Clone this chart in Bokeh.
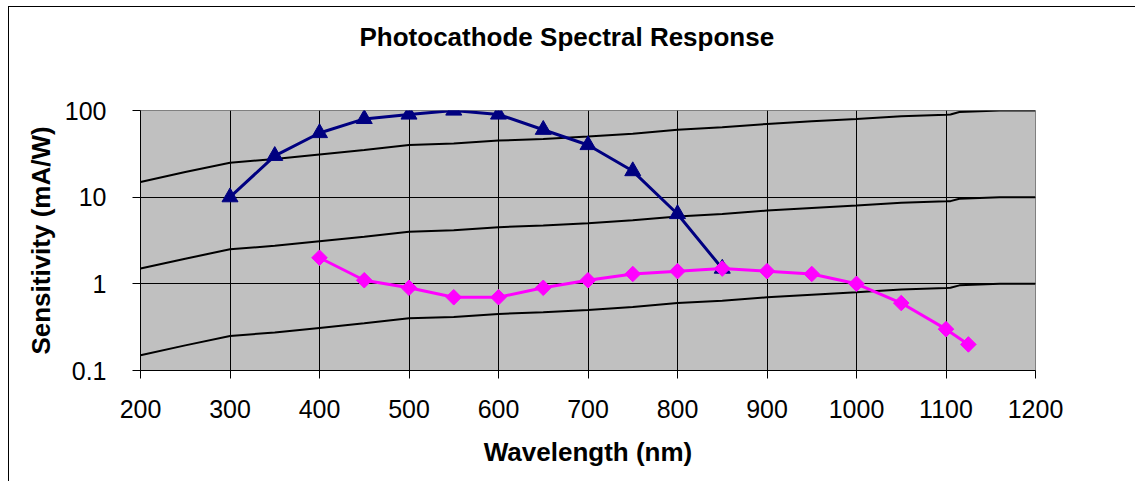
from bokeh.plotting import figure
from bokeh.models import FixedTicker, CustomJSTickFormatter, Range1d, Title
from bokeh.embed import file_html
from bokeh.resources import INLINE

# ---- data ----
iso_wl = [200, 250, 300, 350, 400, 450, 500, 550, 600, 650, 700, 750, 800,
          850, 900, 950, 1000, 1050, 1100, 1105, 1115, 1160, 1200]
iso_high = [15, 19.5, 25, 27.5, 31, 35, 40, 41.5, 45, 47, 50, 54, 60,
            64, 70, 75, 80, 86, 89.5, 90, 96, 100, 100]
iso_mid = [1.5, 1.95, 2.5, 2.75, 3.1, 3.5, 4.0, 4.15, 4.5, 4.7, 5.0, 5.4, 6.0,
           6.4, 7.0, 7.5, 8.0, 8.6, 8.95, 9.0, 9.6, 10, 10]
iso_low = [0.15, 0.195, 0.25, 0.275, 0.31, 0.35, 0.40, 0.415, 0.45, 0.47, 0.50, 0.54, 0.60,
           0.64, 0.70, 0.75, 0.80, 0.86, 0.895, 0.90, 0.96, 1.0, 1.0]

blue_wl = [300, 350, 400, 450, 500, 550, 600, 650, 700, 750, 800, 850]
blue_s = [10, 30, 55, 80, 90, 100, 90, 60, 40, 20, 6.4, 1.5]

pink_wl = [400, 450, 500, 550, 600, 650, 700, 750, 800, 850, 900, 950, 1000, 1050, 1100, 1125]
pink_s = [2.0, 1.1, 0.9, 0.7, 0.7, 0.9, 1.1, 1.3, 1.4, 1.5, 1.4, 1.3, 1.0, 0.6, 0.3, 0.2]

x_ticks = [200, 300, 400, 500, 600, 700, 800, 900, 1000, 1100, 1200]
y_ticks = [0.1, 1, 10, 100]

TITLE = "Photocathode Spectral Response"
FONT = "Liberation Sans"

p = figure(width=1127, height=475, y_axis_type="log",
           x_range=Range1d(200, 1200), y_range=Range1d(0.1, 100),
           output_backend="svg", toolbar_location=None,
           min_border_left=131, min_border_right=101,
           min_border_top=103, min_border_bottom=112)

p.styles = {"margin-top": "6px", "margin-left": "8px",
            "border-top": "1px solid black", "border-left": "1px solid black"}

p.background_fill_color = "#C0C0C0"
p.border_fill_color = "white"
p.outline_line_color = "#808080"
p.outline_line_width = 1

# chart title
p.title.text = TITLE
p.title.align = "left"
p.title.offset = 219
p.title.vertical_align = "top"
p.title.standoff = 20
p.title.text_font = FONT
p.title.text_font_size = "26px"
p.title.text_font_style = "bold"
p.title.text_color = "black"

# blank spacer between the chart title and the plot frame
p.add_layout(Title(text=" ", text_font_size="10px", standoff=34), "above")

p.xaxis.ticker = FixedTicker(ticks=x_ticks)
p.yaxis.ticker = FixedTicker(ticks=y_ticks)
p.yaxis.formatter = CustomJSTickFormatter(code="return tick >= 1 ? tick.toFixed(0) : tick.toString();")
p.xgrid.ticker = FixedTicker(ticks=x_ticks)
p.ygrid.ticker = FixedTicker(ticks=y_ticks)
p.grid.grid_line_color = "black"
p.grid.grid_line_width = 1

p.axis.minor_tick_line_color = None
p.axis.major_tick_in = 0
p.axis.major_tick_out = 8
p.axis.major_tick_line_color = "black"
p.axis.axis_line_color = "black"
p.axis.major_label_text_font = FONT
p.axis.major_label_text_font_size = "25px"
p.axis.major_label_text_color = "black"
p.xaxis.major_label_standoff = 21
p.yaxis.major_label_standoff = 26

p.xaxis.axis_label = "Wavelength (nm)"
p.yaxis.axis_label = "Sensitivity (mA/W)"
p.axis.axis_label_text_font = FONT
p.axis.axis_label_text_font_size = "26px"
p.axis.axis_label_text_font_style = "bold"
p.axis.axis_label_text_color = "black"
p.xaxis.axis_label_standoff = 16
p.yaxis.axis_label_standoff = 6

for ys in (iso_high, iso_mid, iso_low):
    p.line(iso_wl, ys, line_color="black", line_width=2)

p.line(blue_wl, blue_s, line_color="#000080", line_width=3)
p.scatter(blue_wl, blue_s, marker="triangle", size=16, fill_color="#000080", line_color="#000080")

p.line(pink_wl, pink_s, line_color="#FF00FF", line_width=3)
p.scatter(pink_wl, pink_s, marker="square", angle=0.785398, size=11, fill_color="#FF00FF", line_color="#FF00FF")

open("out.html", "w").write(file_html(p, INLINE))
